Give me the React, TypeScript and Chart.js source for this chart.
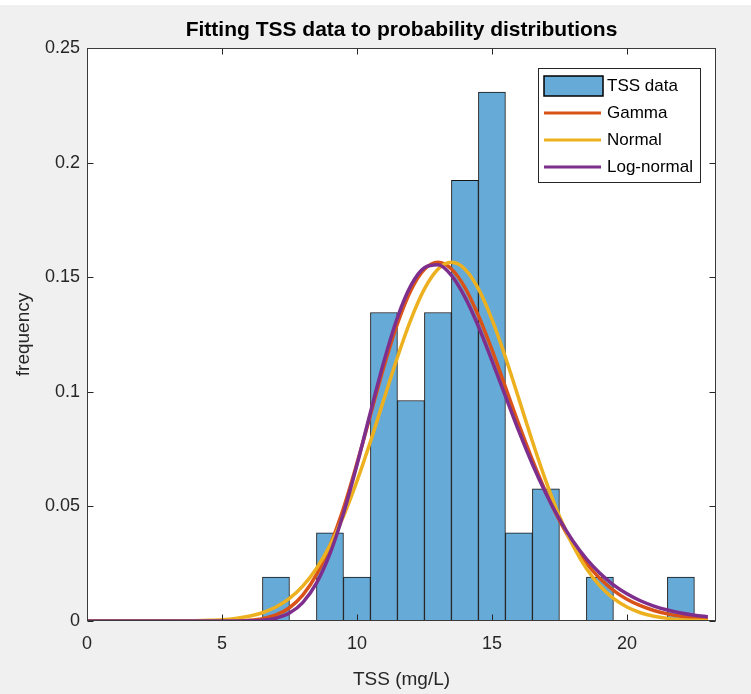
import { useEffect, useRef } from "react";
import { Chart, registerables } from "chart.js";

Chart.register(...registerables);

// ---- data ----
const binCenters = [7, 9, 10, 11, 12, 13, 14, 15, 16, 17, 19, 22];
const binFreq = [0.0192, 0.0385, 0.0192, 0.1346, 0.0962, 0.1346, 0.1923, 0.2308, 0.0385, 0.0577, 0.0192, 0.0192];

const curveX = [
  0, 0.5, 1, 1.5, 2, 2.5, 3, 3.5, 4, 4.5, 5, 5.5, 6, 6.5, 7, 7.5, 8, 8.5, 9, 9.5, 10, 10.5, 11, 11.5,
  12, 12.5, 13, 13.5, 14, 14.5, 15, 15.5, 16, 16.5, 17, 17.5, 18, 18.5, 19, 19.5, 20, 20.5, 21, 21.5,
  22, 22.5, 23,
];
const gammaPdf = [
  0, 0, 0, 0, 0, 0, 0, 0, 0, 0, 0.00002, 0.0001, 0.00035, 0.00103, 0.00262, 0.00577, 0.01137, 0.0202,
  0.0329, 0.0492, 0.0688, 0.0899, 0.111, 0.1297, 0.1443, 0.1534, 0.1565, 0.1536, 0.1455, 0.1332, 0.1184,
  0.1021, 0.0857, 0.0703, 0.0562, 0.0439, 0.0336, 0.0252, 0.0185, 0.0134, 0.0095, 0.00666, 0.00458,
  0.0031, 0.00208, 0.00137, 0.00089,
];
const normalPdf = [
  0, 0, 0, 0, 0.00001, 0.00002, 0.00003, 0.00007, 0.00015, 0.00031, 0.0006, 0.00114, 0.00207, 0.00361,
  0.00608, 0.00983, 0.0153, 0.0229, 0.033, 0.0457, 0.061, 0.0783, 0.0968, 0.1151, 0.1316, 0.1449, 0.1535,
  0.1565, 0.1535, 0.1449, 0.1316, 0.1151, 0.0968, 0.0783, 0.061, 0.0457, 0.033, 0.0229, 0.0153, 0.00983,
  0.00608, 0.00361, 0.00207, 0.00114, 0.0006, 0.00031, 0.00015,
];
const lognormalPdf = [
  0, 0, 0, 0, 0, 0, 0, 0, 0, 0, 0, 0.00001, 0.00008, 0.00035, 0.00122, 0.00344, 0.00813, 0.0165, 0.0294,
  0.0469, 0.0681, 0.0911, 0.1133, 0.1324, 0.1464, 0.1541, 0.1554, 0.1508, 0.1413, 0.1285, 0.1136, 0.0981,
  0.0827, 0.0684, 0.0556, 0.0444, 0.0349, 0.0271, 0.0208, 0.0158, 0.0119, 0.00883, 0.00652, 0.00478,
  0.00348, 0.00251, 0.0018,
];

const xTicks = [0, 5, 10, 15, 20];
const xTickLabels = ["0", "5", "10", "15", "20"];
const yTicks = [0, 0.05, 0.1, 0.15, 0.2, 0.25];
const yTickLabels = ["0", "0.05", "0.1", "0.15", "0.2", "0.25"];
const seriesNames = ["TSS data", "Gamma", "Normal", "Log-normal"];
const titleText = "Fitting TSS data to probability distributions";
const xTitleText = "TSS (mg/L)";
const yTitleText = "frequency";

// ---- style ----
const FONT = "'Liberation Sans', Arial, Helvetica, sans-serif";
const AXIS_COLOR = "#262626";
const BAR_COLOR = "#66AAD7";
const LINE_COLORS = ["#D95319", "#EDB120", "#7E2F8E"];

const bgPlugin = {
  id: "bgPlugin",
  beforeDraw(chart: any) {
    const { ctx, width, height, chartArea } = chart;
    ctx.save();
    ctx.fillStyle = "#f0f0f0";
    ctx.fillRect(0, 0, width, height);
    ctx.fillStyle = "#ffffff";
    ctx.fillRect(0, 0, width, 5);
    ctx.fillRect(chartArea.left, chartArea.top, chartArea.right - chartArea.left, chartArea.bottom - chartArea.top);
    ctx.restore();
  },
};

const framePlugin = {
  id: "framePlugin",
  afterDatasetsDraw(chart: any) {
    const { ctx, chartArea } = chart;
    const xs = chart.scales.x;
    const ys = chart.scales.y;
    const L = Math.round(chartArea.left) + 0.5;
    const R = Math.round(chartArea.right) - 0.5;
    const T = Math.round(chartArea.top) + 0.5;
    const B = Math.round(chartArea.bottom) - 0.5;
    const tl = 6;
    ctx.save();
    ctx.strokeStyle = AXIS_COLOR;
    ctx.lineWidth = 1;
    ctx.beginPath();
    xs.ticks.forEach((t: any) => {
      const px = Math.round(xs.getPixelForValue(t.value)) + 0.5;
      ctx.moveTo(px, B);
      ctx.lineTo(px, B - tl);
      ctx.moveTo(px, T);
      ctx.lineTo(px, T + tl);
    });
    ys.ticks.forEach((t: any) => {
      const py = Math.round(ys.getPixelForValue(t.value)) + 0.5;
      ctx.moveTo(L, py);
      ctx.lineTo(L + tl, py);
      ctx.moveTo(R, py);
      ctx.lineTo(R - tl, py);
    });
    ctx.stroke();
    ctx.strokeStyle = "#3a3a3a";
    ctx.strokeRect(L, T, R - L, B - T);
    ctx.restore();
  },
  afterDraw(chart: any) {
    const { ctx, chartArea } = chart;
    ctx.save();
    // title
    ctx.fillStyle = "#000000";
    ctx.font = `bold 21px ${FONT}`;
    ctx.textAlign = "center";
    ctx.textBaseline = "middle";
    ctx.fillText(titleText, (chartArea.left + chartArea.right) / 2, 30);

    // legend
    const bx = 538.5, by = 68.5, bw = 162, bh = 114;
    ctx.fillStyle = "#ffffff";
    ctx.fillRect(bx, by, bw, bh);
    ctx.strokeStyle = AXIS_COLOR;
    ctx.lineWidth = 1;
    ctx.strokeRect(bx, by, bw, bh);
    const rows = [86, 113, 140, 167];
    const ds = chart.data.datasets;
    ds.forEach((d: any, i: number) => {
      const y = rows[i];
      if (i === 0) {
        ctx.fillStyle = d.backgroundColor;
        ctx.fillRect(544, 76, 59, 20);
        ctx.strokeStyle = "#000000";
        ctx.lineWidth = 1.5;
        ctx.strokeRect(544, 76, 59, 20);
      } else {
        ctx.strokeStyle = d.borderColor;
        ctx.lineWidth = 3;
        ctx.beginPath();
        ctx.moveTo(544, y);
        ctx.lineTo(601, y);
        ctx.stroke();
      }
      ctx.fillStyle = "#000000";
      ctx.font = `17px ${FONT}`;
      ctx.textAlign = "left";
      ctx.textBaseline = "middle";
      ctx.fillText(d.label, 607, y);
    });
    ctx.restore();
  },
};

export default function App() {
  const canvasRef = useRef<HTMLCanvasElement | null>(null);

  useEffect(() => {
    document.body.style.margin = "0";
    document.body.style.background = "#f0f0f0";
    const canvas = canvasRef.current;
    if (!canvas) return;

    const lineDs = (label: string, ys: number[], color: string, order: number) => ({
      type: "line" as const,
      label,
      data: curveX.map((x, i) => ({ x, y: ys[i] })),
      borderColor: color,
      backgroundColor: color,
      borderWidth: 3.5,
      pointRadius: 0,
      fill: false,
      cubicInterpolationMode: "monotone" as const,
      order,
    });

    const chart = new Chart(canvas, {
      type: "bar",
      data: {
        datasets: [
          {
            type: "bar" as const,
            label: seriesNames[0],
            data: binCenters.map((x, i) => ({ x, y: binFreq[i] })),
            backgroundColor: BAR_COLOR,
            borderColor: "#141414",
            borderWidth: 1,
            barPercentage: 1,
            categoryPercentage: 1,
            order: 10,
          } as any,
          lineDs(seriesNames[1], gammaPdf, LINE_COLORS[0], 3),
          lineDs(seriesNames[2], normalPdf, LINE_COLORS[1], 2),
          lineDs(seriesNames[3], lognormalPdf, LINE_COLORS[2], 1),
        ],
      },
      options: {
        animation: false,
        responsive: true,
        maintainAspectRatio: false,
        layout: { padding: { top: 48, right: 35, left: 0, bottom: 0 } },
        plugins: {
          legend: { display: false },
          tooltip: { enabled: false },
          title: { display: false },
        },
        scales: {
          x: {
            type: "linear",
            min: 0,
            max: 23.3,
            offset: false,
            grid: { display: false, drawTicks: false, offset: false },
            border: { display: false },
            afterBuildTicks: (s: any) => {
              s.ticks = xTicks.map((v) => ({ value: v }));
            },
            afterFit: (s: any) => {
              s.height = 73;
            },
            ticks: {
              autoSkip: false,
              maxRotation: 0,
              padding: 12,
              color: AXIS_COLOR,
              font: { family: FONT, size: 18 },
              callback: (_v: any, i: number) => xTickLabels[i],
            },
            title: {
              display: true,
              text: xTitleText,
              color: AXIS_COLOR,
              font: { family: FONT, size: 19 },
              padding: { top: 0, bottom: 3 },
            },
          },
          y: {
            type: "linear",
            min: 0,
            max: 0.25,
            grid: { display: false, drawTicks: false },
            border: { display: false },
            afterBuildTicks: (s: any) => {
              s.ticks = yTicks.map((v) => ({ value: v }));
            },
            afterFit: (s: any) => {
              s.width = 87;
            },
            ticks: {
              autoSkip: false,
              padding: 7,
              color: AXIS_COLOR,
              font: { family: FONT, size: 18 },
              callback: (_v: any, i: number) => yTickLabels[i],
            },
            title: {
              display: true,
              text: yTitleText,
              color: AXIS_COLOR,
              font: { family: FONT, size: 19 },
              padding: { top: 12, bottom: 0 },
            },
          },
        },
      },
      plugins: [bgPlugin, framePlugin],
    } as any);

    return () => {
      chart.destroy();
    };
  }, []);

  return (
    <div style={{ position: "relative", width: 751, height: 694, background: "#f0f0f0" }}>
      <canvas ref={canvasRef} />
    </div>
  );
}
